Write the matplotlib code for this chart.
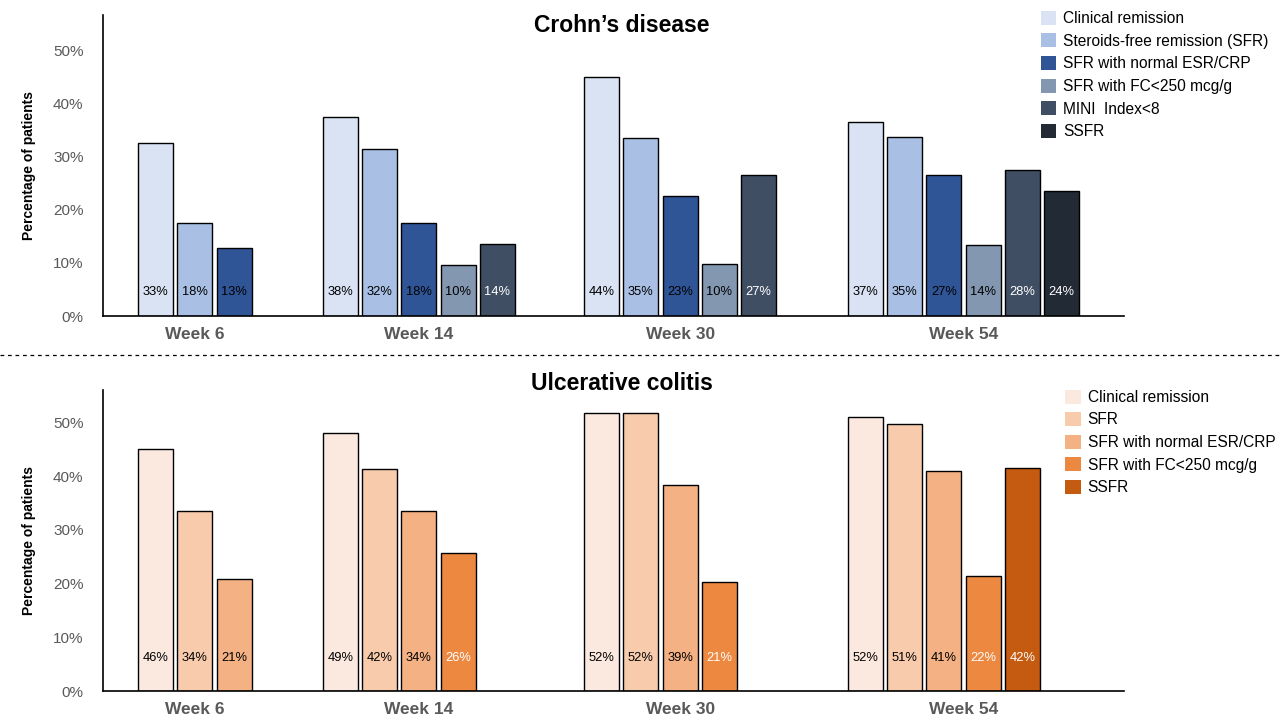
import matplotlib
matplotlib.use('Agg')
import matplotlib.pyplot as plt
from matplotlib.patches import Patch

plt.rcParams['font.family'] = ['Liberation Sans', 'DejaVu Sans']

weeks = ['Week 6', 'Week 14', 'Week 30', 'Week 54']

# Crohn's disease: bar heights and printed labels, per week
cd_series = ['Clinical remission', 'Steroids-free remission (SFR)', 'SFR with normal ESR/CRP',
             'SFR with FC<250 mcg/g', 'MINI  Index<8', 'SSFR']
cd_colors = ['#DAE3F3', '#A9C0E4', '#2F5597', '#8497B0', '#404E64', '#222A35']
cd_heights = [
    [32.5, 17.5, 12.8],
    [37.4, 31.4, 17.5, 9.6, 13.5],
    [44.9, 33.5, 22.6, 9.8, 26.5],
    [36.5, 33.6, 26.5, 13.3, 27.4, 23.5],
]
cd_labels = [
    ['33%', '18%', '13%'],
    ['38%', '32%', '18%', '10%', '14%'],
    ['44%', '35%', '23%', '10%', '27%'],
    ['37%', '35%', '27%', '14%', '28%', '24%'],
]
# which series each bar belongs to
cd_series_idx = [[0, 1, 2], [0, 1, 2, 3, 4], [0, 1, 2, 3, 4], [0, 1, 2, 3, 4, 5]]

# Ulcerative colitis
uc_series = ['Clinical remission', 'SFR', 'SFR with normal ESR/CRP',
             'SFR with FC<250 mcg/g', 'SSFR']
uc_colors = ['#FBE9DF', '#F8CBAD', '#F4B183', '#ED8841', '#C55A11']
uc_heights = [
    [45.0, 33.5, 20.8],
    [48.1, 41.4, 33.5, 25.8],
    [51.7, 51.7, 38.3, 20.4],
    [51.1, 49.8, 40.9, 21.4, 41.6],
]
uc_labels = [
    ['46%', '34%', '21%'],
    ['49%', '42%', '34%', '26%'],
    ['52%', '52%', '39%', '21%'],
    ['52%', '51%', '41%', '22%', '42%'],
]
uc_series_idx = [[0, 1, 2], [0, 1, 2, 3], [0, 1, 2, 3], [0, 1, 2, 3, 4]]

# dark fills get white value labels
cd_white = {4, 5}
uc_white = {3, 4}

group_start = [1.34, 6.04, 12.69, 19.40]
bar_w = 0.89
gray = '#595959'

fig = plt.figure(figsize=(12.8, 7.2), dpi=100)
ax1 = fig.add_axes([0.0805, 0.561, 0.798, 0.418])
ax2 = fig.add_axes([0.0805, 0.040, 0.798, 0.418])


def draw(ax, heights, labels, sidx, colors, white, ymax, label_y, title, title_y):
    for g in range(len(weeks)):
        for j, (h, lab, s) in enumerate(zip(heights[g], labels[g], sidx[g])):
            x = group_start[g] + j
            ax.bar(x, h, width=bar_w, color=colors[s], edgecolor='black', linewidth=1.0)
            ax.text(x, label_y, lab, ha='center', va='center', fontsize=9.3,
                    color='white' if s in white else 'black')
    ax.set_xlim(0, 26)
    ax.set_ylim(0, ymax)
    ax.set_yticks([0, 10, 20, 30, 40, 50])
    ax.set_yticklabels(['0%', '10%', '20%', '30%', '40%', '50%'], fontsize=11, color=gray)
    centers = [group_start[g] + (len(cd_heights[g]) - 1) / 2 for g in range(len(weeks))]
    ax.set_xticks(centers)
    ax.set_xticklabels(weeks, fontsize=12.5, fontweight='bold', color=gray)
    ax.tick_params(axis='both', length=0, pad=8)
    ax.tick_params(axis='y', pad=14)
    for side in ['top', 'right']:
        ax.spines[side].set_visible(False)
    ax.spines['left'].set_linewidth(1.2)
    ax.spines['bottom'].set_linewidth(1.2)
    ax.set_ylabel('Percentage of patients', fontsize=10, fontweight='bold', labelpad=12)
    fig.text(0.486, title_y, title, ha='center', va='center', fontsize=16.5, fontweight='bold')


draw(ax1, cd_heights, cd_labels, cd_series_idx, cd_colors, cd_white, 56.6, 4.6,
     'Crohn\u2019s disease', 0.965)
draw(ax2, uc_heights, uc_labels, uc_series_idx, uc_colors, uc_white, 56.0, 6.2,
     'Ulcerative colitis', 0.468)

cd_handles = [Patch(facecolor=c, edgecolor='none', label=l) for c, l in zip(cd_colors, cd_series)]
uc_handles = [Patch(facecolor=c, edgecolor='none', label=l) for c, l in zip(uc_colors, uc_series)]
fig.legend(handles=cd_handles, loc='upper left', bbox_to_anchor=(0.8045, 1.0),
           frameon=False, fontsize=11.2, handlelength=1.0, handleheight=1.0,
           handletextpad=0.45, labelspacing=0.47, borderaxespad=0.3)
fig.legend(handles=uc_handles, loc='upper left', bbox_to_anchor=(0.8235, 0.474),
           frameon=False, fontsize=11.2, handlelength=1.0, handleheight=1.0,
           handletextpad=0.45, labelspacing=0.47, borderaxespad=0.3)

# dashed divider between the two panels
fig.add_artist(plt.Line2D([0, 1], [0.507, 0.507], transform=fig.transFigure,
                          color='black', linewidth=0.9, linestyle=(0, (3, 3))))

fig.savefig('out.png', dpi=100)
